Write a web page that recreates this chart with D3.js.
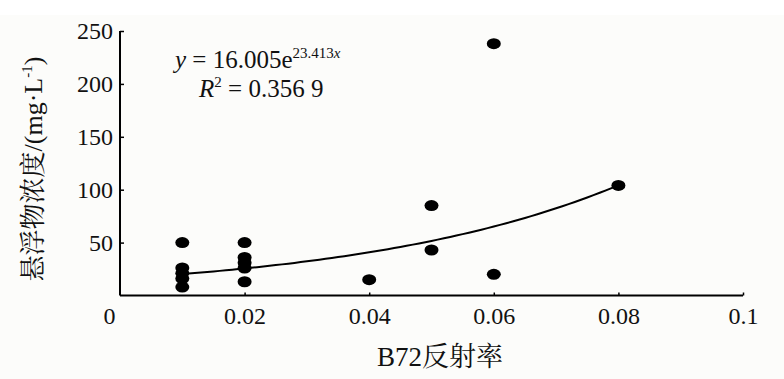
<!DOCTYPE html>
<html><head><meta charset="utf-8">
<script src="https://cdn.jsdelivr.net/npm/d3@7"></script>
<style>
html,body{margin:0;padding:0;background:#fff;}
svg{display:block;}
.serif{font-family:"Liberation Serif","Times New Roman",Tinos,"DejaVu Serif",serif;}
.cjk{font-family:"Liberation Serif","Times New Roman","Noto Serif CJK SC","Noto Sans CJK SC",serif;}
</style></head>
<body>
<svg id="chart" width="784" height="379"></svg>
<script>
// Data
const reflectance = [0.01,0.01,0.01,0.01,0.01, 0.02,0.02,0.02,0.02,0.02, 0.04, 0.05,0.05, 0.06,0.06, 0.08];
const concentration = [50,26,21,16,8, 50,36,31,26,13, 15, 85,43, 238,20, 104];
const xTicks = [0,0.02,0.04,0.06,0.08,0.1];
const yTicks = [50,100,150,200,250];
const fitA = 16.005, fitB = 23.413;
const fitRange = [0.01, 0.08];

const svg = d3.select("#chart");
svg.append("rect").attr("x",0).attr("y",15).attr("width",784).attr("height",364).attr("fill","#fcfcfa");

const x = d3.scaleLinear().domain([0,0.1]).range([120,743]);
const y = d3.scaleLinear().domain([0,250]).range([295.5,31]);

// axes
const xAxis = d3.axisBottom(x).tickValues(xTicks).tickFormat(d=>d===0.1?"0.1":(d===0?"0":d3.format(".2f")(d)))
  .tickSizeInner(-3).tickSizeOuter(0).tickPadding(11);
const gx = svg.append("g").attr("transform",`translate(0,${y(0)})`).call(xAxis);
gx.attr("font-family",null).attr("font-size",null);
gx.select(".domain").attr("stroke","#000").attr("stroke-width",2).attr("d",`M${x(0)},0H${x(0.1)}`);
gx.selectAll(".tick line").attr("stroke","#000").attr("stroke-width",1.5);
gx.selectAll(".tick").filter(d=>d===0).select("line").remove();
gx.selectAll(".tick text").attr("class","serif").style("font-size","24px").attr("fill","#111")
  .attr("dx",d=>d===0?-11:0);

const yAxis = d3.axisLeft(y).tickValues(yTicks).tickSizeInner(-4).tickSizeOuter(0).tickPadding(7);
const gy = svg.append("g").attr("transform",`translate(${x(0)},0)`).call(yAxis);
gy.attr("font-family",null).attr("font-size",null);
gy.select(".domain").attr("stroke","#000").attr("stroke-width",2).attr("d",`M0,${y(0)}V${y(250)}`);
gy.selectAll(".tick line").attr("stroke","#000").attr("stroke-width",1.5);
gy.selectAll(".tick text").attr("class","serif").style("font-size","24px").attr("fill","#111");

// trend line
const fitX = d3.range(fitRange[0], fitRange[1]+1e-9, 0.001);
const line = d3.line().x(d=>x(d)).y(d=>y(fitA*Math.exp(fitB*d)));
svg.append("path").datum(fitX).attr("d",line).attr("fill","none").attr("stroke","#000").attr("stroke-width",2);

// points
svg.append("g").selectAll("ellipse").data(reflectance.map((r,i)=>[r,concentration[i]]))
  .join("ellipse").attr("cx",d=>x(d[0])).attr("cy",d=>y(d[1])).attr("rx",7).attr("ry",5.5).attr("fill","#000");

// equation
const eq = svg.append("text").attr("class","serif").attr("x",175).attr("y",68).style("font-size","25px").attr("fill","#111");
eq.append("tspan").attr("font-style","italic").text("y");
eq.append("tspan").text(" = 16.005e");
eq.append("tspan").style("font-size","15px").attr("dy",-10).text("23.413");
eq.append("tspan").style("font-size","15px").attr("font-style","italic").text("x");
const r2 = svg.append("text").attr("class","serif").attr("x",199).attr("y",97).style("font-size","25px").attr("fill","#111");
r2.append("tspan").attr("font-style","italic").text("R");
r2.append("tspan").style("font-size","15px").attr("dy",-10).text("2");
r2.append("tspan").attr("dy",10).text(" = 0.356 9");

// axis titles
svg.append("text").attr("class","cjk").attr("x",440).attr("y",366).attr("text-anchor","middle")
  .style("font-size","27px").attr("fill","#111").text("B72反射率");
const yl = svg.append("text").attr("class","cjk").attr("transform","translate(42,169) rotate(-90)").attr("text-anchor","middle")
  .style("font-size","26px").attr("fill","#111");
yl.append("tspan").text("悬浮物浓度/(mg·L");
yl.append("tspan").style("font-size","15px").attr("dy",-10).text("-1");
yl.append("tspan").attr("dy",10).text(")");
</script>
</body></html>
